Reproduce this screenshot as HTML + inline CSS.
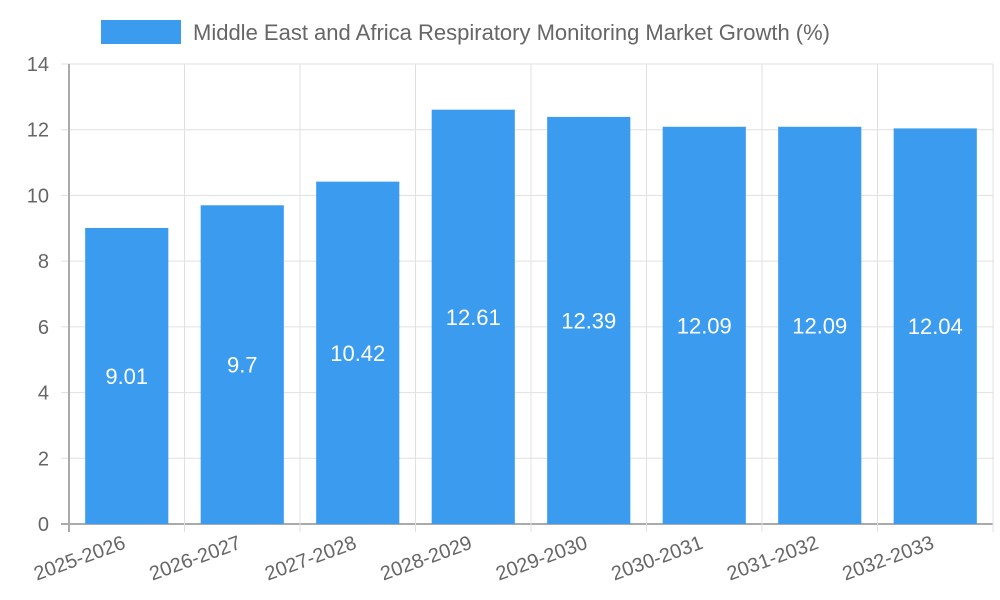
<!DOCTYPE html>
<html><head><meta charset="utf-8"><style>
body{margin:0;background:#fff;}
svg{display:block;font-family:"Liberation Sans",sans-serif;}
</style></head><body>
<svg id="chart" width="1000" height="600">
<g id="legend">
<rect x="101" y="20" width="80" height="24" fill="#3a9bef"/>
<text x="193" y="40" font-size="22" fill="#666">Middle East and Africa Respiratory Monitoring Market Growth (%)</text>
</g>
<g id="grid"></g><g id="bars"></g><g id="labels"></g>
</svg>
<script>
const categories=["2025-2026","2026-2027","2027-2028","2028-2029","2029-2030","2030-2031","2031-2032","2032-2033"];
const values=[9.01,9.7,10.42,12.61,12.39,12.09,12.09,12.04];
const yTicks=[0,2,4,6,8,10,12,14];
const NS="http://www.w3.org/2000/svg";
const L=69,R=993,T=64,B=524,yMax=14;
const bw=(R-L)/categories.length;
const y=v=>B-(v/yMax)*(B-T);
const x=i=>L+i*bw;
function mk(tag,attrs,parent){const e=document.createElementNS(NS,tag);for(const k in attrs)e.setAttribute(k,attrs[k]);document.getElementById(parent).appendChild(e);return e;}
yTicks.forEach(t=>{
 const g=mk("line",{x1:L-8,x2:R,y1:y(t),y2:y(t),stroke:t===0?"#aaa":"#e0e0e0","stroke-width":t===0?2:1},"grid");
 
 
 const tx=mk("text",{x:L-20,y:y(t)+7,"font-size":20,fill:"#666","text-anchor":"end"},"grid");
 tx.textContent=t;
 
 
});
for(let i=0;i<=categories.length;i++){
 const g=mk("line",{x1:x(i),x2:x(i),y1:T,y2:B+8,stroke:i===0?"#aaa":"#e0e0e0","stroke-width":i===0?2:1},"grid");
 
 
}
categories.forEach((c,i)=>{
 const w=bw*0.72,cx=x(i)+bw/2;
 const r=mk("rect",{x:cx-w/2,y:y(values[i]),width:w,height:B-y(values[i]),fill:"#3a9bef"},"bars");
 
 
 const vt=mk("text",{x:cx,y:(y(values[i])+B)/2+8,"font-size":22,fill:"#fff","text-anchor":"middle"},"labels");
 vt.textContent=values[i];
 
 
 const ct=mk("text",{x:cx,y:548,"font-size":20,fill:"#666","text-anchor":"end",transform:`rotate(-20 ${cx} 548)`},"labels");
 ct.textContent=c;
 
 
});
</script>
</body></html>
